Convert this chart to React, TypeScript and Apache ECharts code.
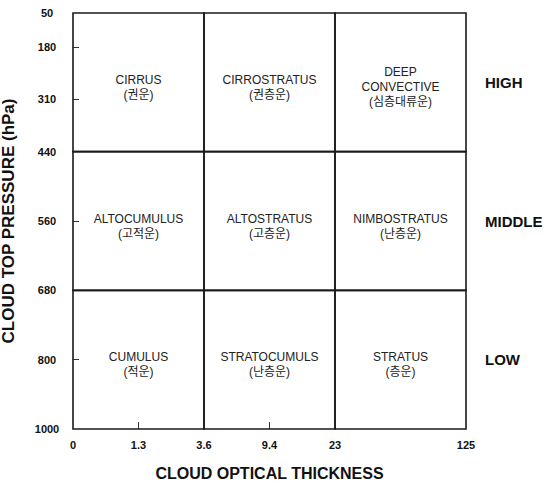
import React, { useEffect, useRef } from "react";
import * as echarts from "echarts";

// Optical thickness tick labels and their positions on the (schematic) column axis
const opticalLabels = ["0", "1.3", "3.6", "9.4", "23", "125"];
const opticalPos = [0, 0.5, 1, 1.5, 2, 3];
const opticalMinorTicks = [0.5, 1.5];

// Cloud top pressure tick labels and their positions on the (schematic) row axis
const pressureLabels = ["50", "180", "310", "440", "560", "680", "800", "1000"];
const pressurePos = [0, 0.245, 0.62, 1, 1.5, 2, 2.5, 3];
const pressureMinorTicks = [0.245, 0.62, 1.5, 2.5];

// Level names (right side)
const levelNames = ["HIGH", "MIDDLE", "LOW"];
const levelPos = [0.5, 1.5, 2.5];

// Cloud type cells
const cellCols = [0, 1, 2, 0, 1, 2, 0, 1, 2];
const cellRows = [0, 0, 0, 1, 1, 1, 2, 2, 2];
const cellNames = [
  "CIRRUS",
  "CIRROSTRATUS",
  "DEEP\nCONVECTIVE",
  "ALTOCUMULUS",
  "ALTOSTRATUS",
  "NIMBOSTRATUS",
  "CUMULUS",
  "STRATOCUMULS",
  "STRATUS",
];
const cellKorean = [
  "(권운)",
  "(권층운)",
  "(심층대류운)",
  "(고적운)",
  "(고층운)",
  "(난층운)",
  "(적운)",
  "(난층운)",
  "(층운)",
];

const FONT = "'Liberation Sans', Arial, 'Noto Sans CJK KR', sans-serif";

export default function App() {
  const ref = useRef<HTMLDivElement>(null);

  useEffect(() => {
    if (!ref.current) return;
    const chart = echarts.init(ref.current, undefined, { renderer: "svg" });

    const optLabelFor = (v: number) => {
      const i = opticalPos.findIndex((p) => Math.abs(p - v) < 1e-6);
      return i >= 0 ? opticalLabels[i] : "";
    };
    const presLabelFor = (v: number) => {
      const i = pressurePos.findIndex((p) => Math.abs(p - v) < 1e-6);
      return i >= 0 ? pressureLabels[i] : "";
    };
    const levelLabelFor = (v: number) => {
      const i = levelPos.findIndex((p) => Math.abs(p - v) < 1e-6);
      return i >= 0 ? levelNames[i] : "";
    };

    const option: any = {
      animation: false,
      backgroundColor: "#ffffff",
      textStyle: { fontFamily: FONT },
      grid: {
        left: 73,
        top: 13,
        right: 80,
        bottom: 54,
        containLabel: false,
        outerBoundsMode: "none",
      },
      xAxis: {
        type: "value",
        min: 0,
        max: 3,
        position: "bottom",
        name: "CLOUD OPTICAL THICKNESS",
        nameLocation: "middle",
        nameGap: 36,
        nameTextStyle: {
          fontFamily: FONT,
          fontWeight: "bold",
          fontSize: 16,
          color: "#111",
        },
        axisLine: { show: false, onZero: false },
        splitLine: { show: false },
        axisTick: {
          show: true,
          inside: true,
          length: 7,
          customValues: opticalMinorTicks,
          lineStyle: { color: "#333", width: 1 },
        },
        axisLabel: {
          show: true,
          customValues: opticalPos,
          formatter: (v: number) => optLabelFor(v),
          margin: 10,
          fontFamily: FONT,
          fontWeight: "bold",
          fontSize: 11,
          color: "#111",
        },
      },
      yAxis: [
        {
          type: "value",
          min: 0,
          max: 3,
          inverse: true,
          position: "left",
          name: "CLOUD TOP PRESSURE (hPa)",
          nameLocation: "middle",
          nameGap: 56,
          nameTextStyle: {
            fontFamily: FONT,
            fontWeight: "bold",
            fontSize: 17,
            color: "#111",
          },
          axisLine: { show: false, onZero: false },
          splitLine: { show: false },
          axisTick: {
            show: true,
            inside: true,
            length: 6,
            customValues: pressureMinorTicks,
            lineStyle: { color: "#333", width: 1 },
          },
          axisLabel: {
            show: true,
            customValues: pressurePos,
            formatter: (v: number) => presLabelFor(v),
            margin: 26,
            align: "center",
            fontFamily: FONT,
            fontWeight: "bold",
            fontSize: 11,
            color: "#111",
          },
        },
        {
          type: "value",
          min: 0,
          max: 3,
          inverse: true,
          position: "right",
          axisLine: { show: false, onZero: false },
          splitLine: { show: false },
          axisTick: { show: false },
          axisLabel: {
            show: true,
            customValues: levelPos,
            formatter: (v: number) => levelLabelFor(v),
            margin: 19,
            align: "left",
            fontFamily: FONT,
            fontWeight: "bold",
            fontSize: 15,
            color: "#111",
          },
        },
      ],
      series: [
        {
          type: "custom",
          xAxisIndex: 0,
          yAxisIndex: 0,
          data: cellCols.map((c, i) => [c, cellRows[i]]),
          renderItem: (params: any, api: any) => {
            const col = api.value(0);
            const row = api.value(1);
            const p0 = api.coord([col, row]);
            const p1 = api.coord([col + 1, row + 1]);
            const x = Math.min(p0[0], p1[0]);
            const y = Math.min(p0[1], p1[1]);
            const w = Math.abs(p1[0] - p0[0]);
            const h = Math.abs(p1[1] - p0[1]);
            const idx = params.dataIndex;
            const txt = cellNames[idx] + "\n" + cellKorean[idx];
            return {
              type: "group",
              children: [
                {
                  type: "rect",
                  shape: { x, y, width: w, height: h },
                  style: { fill: "none", stroke: "#1a1a1a", lineWidth: 1.6 },
                },
                {
                  type: "text",
                  x: x + w / 2,
                  y: y + h / 2 + 5,
                  style: {
                    text: txt,
                    fontFamily: FONT,
                    fontSize: 12,
                    lineHeight: 15,
                    fill: "#222",
                    align: "center",
                    verticalAlign: "middle",
                    textAlign: "center",
                    textVerticalAlign: "middle",
                  },
                },
              ],
            };
          },
        },
      ],
    };

    chart.setOption(option);
    return () => {
      chart.dispose();
    };
  }, []);

  return (
    <div
      ref={ref}
      style={{
        position: "fixed",
        left: 0,
        top: 0,
        width: 546,
        height: 483,
        background: "#fff",
      }}
    />
  );
}
